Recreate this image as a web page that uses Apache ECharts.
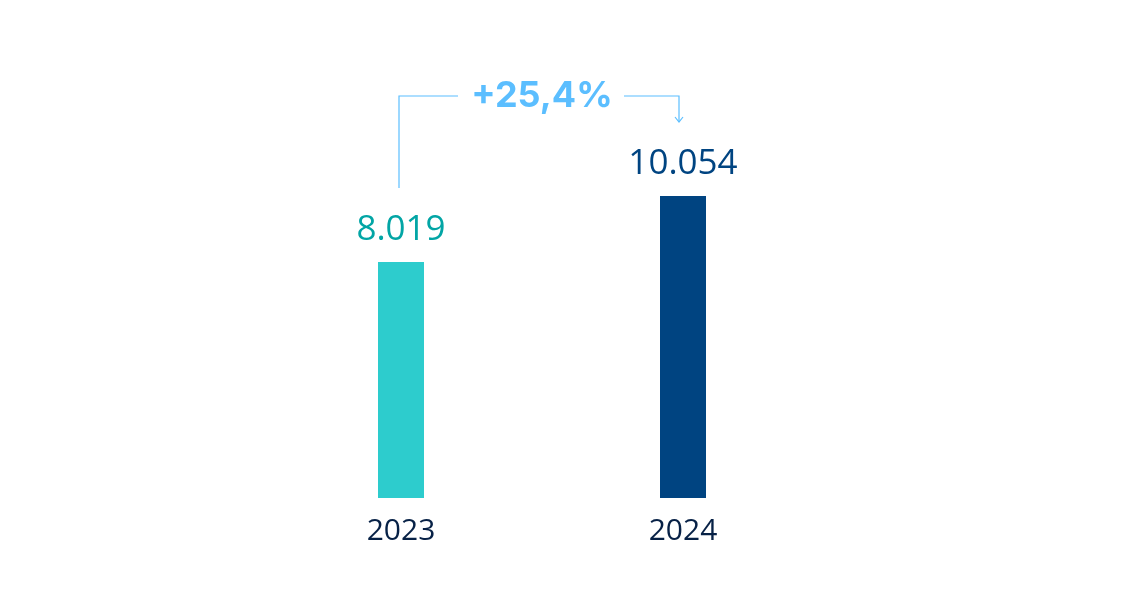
<!DOCTYPE html>
<html>
<head>
<meta charset="utf-8">
<script src="https://cdn.jsdelivr.net/npm/echarts@6/dist/echarts.min.js"></script>
<style>html,body{margin:0;padding:0;background:#fff;}#c{width:1147px;height:594px;}</style>
</head>
<body>
<div id="c"></div>
<script>
const categories = ['2023', '2024'];
const values = [8019, 10054];
const valueLabels = ['8.019', '10.054'];
const changeLabel = '+25,4%';

const barColors = ['#2DCCCD', '#004481'];
const labelColors = ['#02A5A5', '#004481'];
const FONT = '"Open Sans", sans-serif';

const chart = echarts.init(document.getElementById('c'), null, {renderer: 'canvas'});
chart.setOption({
  animation: false,
  backgroundColor: '#ffffff',
  grid: {left: 260, right: 323, top: 196, bottom: 96},
  xAxis: {
    type: 'category',
    data: categories,
    axisLine: {show: false},
    axisTick: {show: false},
    axisLabel: {color: '#072146', fontSize: 30, fontFamily: FONT, margin: 18}
  },
  yAxis: {
    type: 'value',
    min: 743,
    max: 10054,
    show: false,
    splitLine: {show: false}
  },
  series: [{
    type: 'bar',
    barWidth: 46,
    data: values.map((v, i) => ({
      value: v,
      itemStyle: {color: barColors[i]},
      label: {
        show: true,
        position: 'top',
        distance: 14,
        formatter: valueLabels[i],
        color: labelColors[i],
        fontSize: 35,
        fontFamily: FONT
      }
    }))
  }]
});

const p1 = chart.convertToPixel({xAxisIndex: 0}, categories[0]);
const p2 = chart.convertToPixel({xAxisIndex: 0}, categories[1]);
const xl = p1 - 2, xr = p2 - 4, yTop = 96;
const mid = (p1 + p2) / 2;
const lineColor = '#5BBEFF';
chart.setOption({
  graphic: [
    {type: 'polyline', shape: {points: [[xl, 188], [xl, yTop], [mid - 84, yTop]]}, style: {stroke: lineColor, lineWidth: 1.2, fill: null}},
    {type: 'polyline', shape: {points: [[mid + 82, yTop], [xr, yTop], [xr, 122]]}, style: {stroke: lineColor, lineWidth: 1.2, fill: null}},
    {type: 'polyline', shape: {points: [[xr - 4, 117], [xr, 122], [xr + 4, 117]]}, style: {stroke: lineColor, lineWidth: 1.2, fill: null}},
    {type: 'text', x: mid, y: yTop, style: {text: changeLabel, fill: lineColor, font: 'bold 36px Inter, sans-serif', textAlign: 'center', textVerticalAlign: 'middle'}}
  ]
});
</script>
</body>
</html>
